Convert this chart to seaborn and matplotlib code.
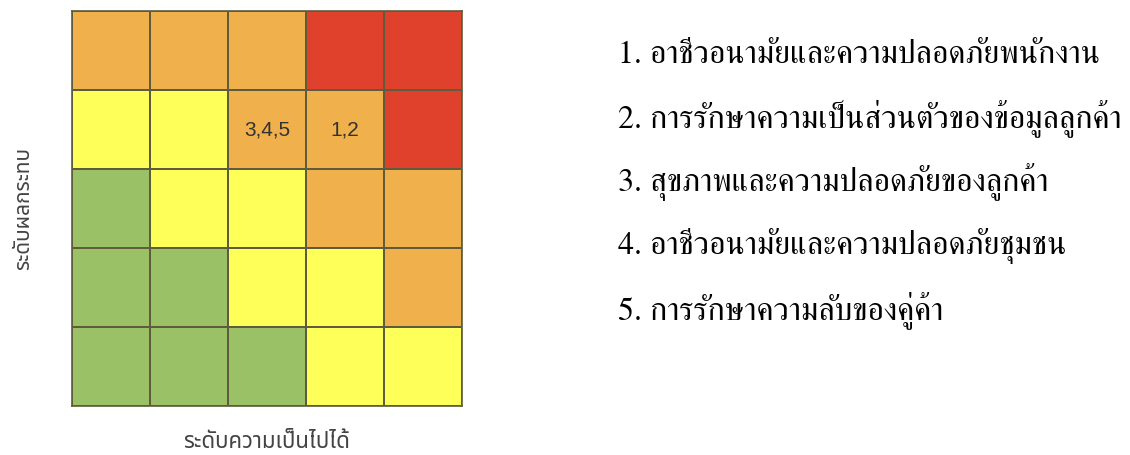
import matplotlib
matplotlib.use('Agg')
import numpy as np
import matplotlib.pyplot as plt
import seaborn as sns
from matplotlib.colors import ListedColormap

# risk level per cell: 0 = low (green), 1 = medium (yellow), 2 = high (orange), 3 = extreme (red)
# rows top -> bottom (impact high -> low), columns left -> right (likelihood low -> high)
risk_levels = [
    [2, 2, 2, 3, 3],
    [1, 1, 2, 2, 3],
    [0, 1, 1, 2, 2],
    [0, 0, 1, 1, 2],
    [0, 0, 0, 1, 1],
]
cell_labels = [
    ['', '', '', '', ''],
    ['', '', '3,4,5', '1,2', ''],
    ['', '', '', '', ''],
    ['', '', '', '', ''],
    ['', '', '', '', ''],
]
level_colors = ['#9bc166', '#ffff5a', '#f0b04c', '#e0412c']
risk_items = [
    '1. อาชีวอนามัยและความปลอดภัยพนักงาน',
    '2. การรักษาความเป็นส่วนตัวของข้อมูลลูกค้า',
    '3. สุขภาพและความปลอดภัยของลูกค้า',
    '4. อาชีวอนามัยและความปลอดภัยชุมชน',
    '5. การรักษาความลับของคู่ค้า',
]
x_label = 'ระดับความเป็นไปได้'
y_label = 'ระดับผลกระทบ'

sns.set_style('white')
fig = plt.figure(figsize=(11.3, 4.55), dpi=100)
ax = fig.add_axes([0.0637, 0.1077, 0.3451, 0.868])

sns.heatmap(np.array(risk_levels), ax=ax, cmap=ListedColormap(level_colors),
            vmin=-0.5, vmax=3.5, cbar=False, linewidths=1.2, linecolor='#5e5c3c',
            annot=np.array(cell_labels), fmt='', square=False,
            annot_kws={'fontsize': 15, 'color': '#333333', 'family': 'Liberation Sans'})
ax.set_xticks([])
ax.set_yticks([])
for s in ax.spines.values():
    s.set_visible(True)
    s.set_color('#5e5c3c')
    s.set_linewidth(1.2)

ax.set_xlabel(x_label, fontsize=16, color='#444444', family=['Noto Sans Thai', 'DejaVu Sans'], labelpad=19)
ax.set_ylabel(y_label, fontsize=15, color='#444444', family=['Noto Sans Thai', 'DejaVu Sans'], labelpad=27)

for i, item in enumerate(risk_items):
    fig.text(0.547, 0.879 - i * 0.14, item, fontsize=23, va='center', ha='left',
             family=['FreeSerif', 'DejaVu Serif'], color='#000000')

fig.savefig('out.png', dpi=100)
